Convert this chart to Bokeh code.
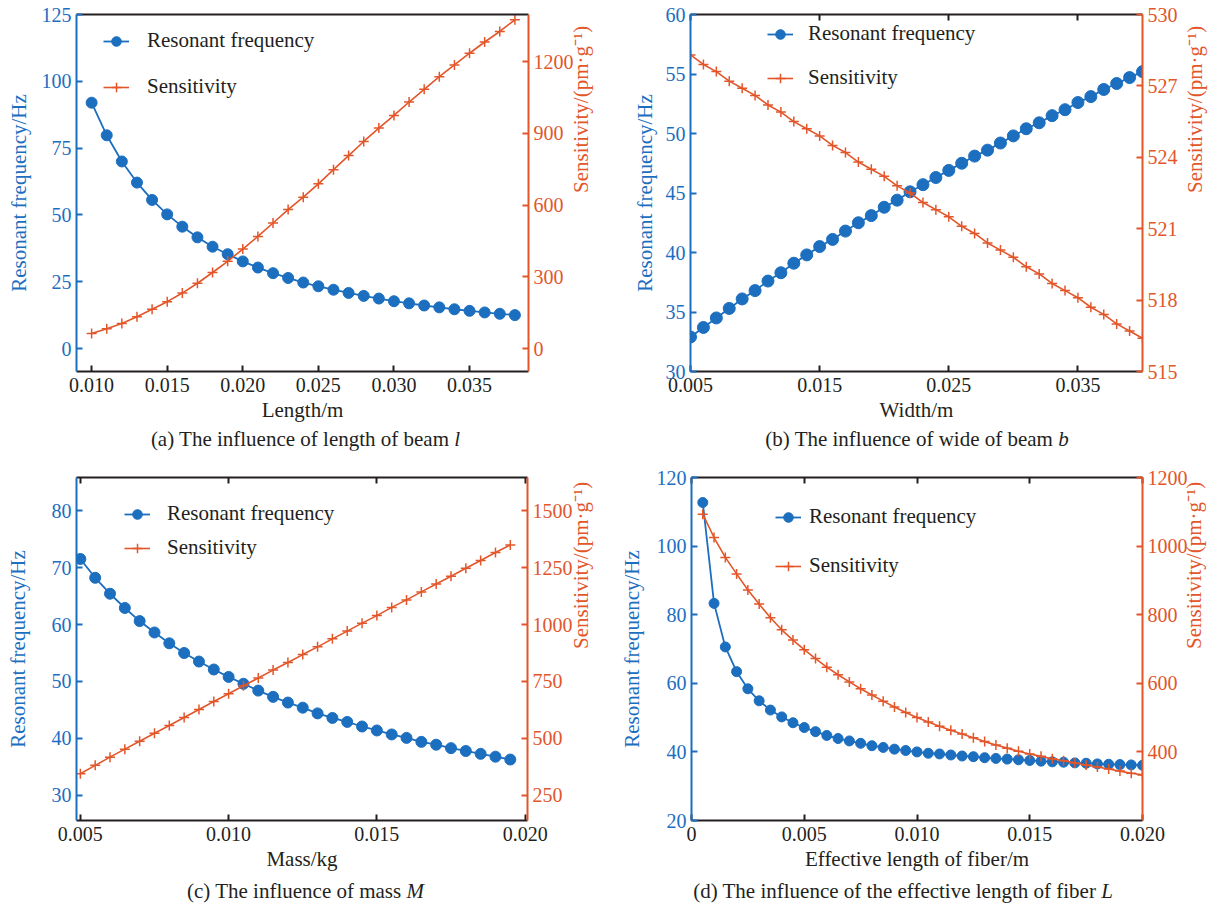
import math
from bokeh.plotting import figure
from bokeh.models import (Range1d, LinearAxis, FixedTicker, NumeralTickFormatter,
                          Legend, LegendItem, Div)
from bokeh.layouts import column, row
from bokeh.embed import file_html
from bokeh.resources import INLINE

# ---------------- data ----------------
# (a) length of beam
length_m = [0.010, 0.011, 0.012, 0.013, 0.014, 0.015, 0.016, 0.017, 0.018, 0.019,
            0.020, 0.021, 0.022, 0.023, 0.024, 0.025, 0.026, 0.027, 0.028, 0.029,
            0.030, 0.031, 0.032, 0.033, 0.034, 0.035, 0.036, 0.037, 0.038]
freq_a = [92.0, 79.8, 70.0, 62.1, 55.6, 50.2, 45.6, 41.6, 38.1, 35.3,
          32.6, 30.3, 28.2, 26.4, 24.7, 23.3, 22.0, 20.8, 19.7, 18.7,
          17.7, 16.9, 16.1, 15.4, 14.7, 14.1, 13.5, 13.0, 12.5]
sens_a = [63, 83, 105, 133, 164, 196, 232, 273, 318, 365,
          416, 469, 525, 581, 633, 689, 748, 807, 866, 922,
          975, 1031, 1084, 1137, 1186, 1235, 1282, 1326, 1375]

# (b) width of beam
width_m = [0.005, 0.006, 0.007, 0.008, 0.009, 0.010, 0.011, 0.012, 0.013, 0.014,
           0.015, 0.016, 0.017, 0.018, 0.019, 0.020, 0.021, 0.022, 0.023, 0.024,
           0.025, 0.026, 0.027, 0.028, 0.029, 0.030, 0.031, 0.032, 0.033, 0.034,
           0.035, 0.036, 0.037, 0.038, 0.039, 0.040]
freq_b = [32.9, 33.7, 34.5, 35.3, 36.1, 36.8, 37.6, 38.3, 39.1, 39.8,
          40.5, 41.1, 41.8, 42.5, 43.1, 43.8, 44.4, 45.1, 45.7, 46.3,
          46.9, 47.5, 48.1, 48.6, 49.2, 49.8, 50.4, 50.9, 51.5, 52.0,
          52.6, 53.1, 53.7, 54.2, 54.7, 55.2]
sens_b = [528.3, 527.9, 527.6, 527.2, 526.9, 526.6, 526.2, 525.9, 525.5, 525.2,
          524.9, 524.5, 524.2, 523.8, 523.5, 523.2, 522.8, 522.5, 522.1, 521.8,
          521.5, 521.1, 520.8, 520.4, 520.1, 519.8, 519.4, 519.1, 518.7, 518.4,
          518.1, 517.7, 517.4, 517.0, 516.7, 516.4]

# (c) mass
mass_kg = [0.0050, 0.0055, 0.0060, 0.0065, 0.0070, 0.0075, 0.0080, 0.0085, 0.0090, 0.0095,
           0.0100, 0.0105, 0.0110, 0.0115, 0.0120, 0.0125, 0.0130, 0.0135, 0.0140, 0.0145,
           0.0150, 0.0155, 0.0160, 0.0165, 0.0170, 0.0175, 0.0180, 0.0185, 0.0190, 0.0195]
freq_c = [71.5, 68.2, 65.4, 62.9, 60.6, 58.6, 56.7, 55.0, 53.5, 52.1,
          50.8, 49.6, 48.4, 47.3, 46.3, 45.4, 44.4, 43.6, 42.9, 42.1,
          41.4, 40.7, 40.1, 39.4, 38.9, 38.3, 37.8, 37.3, 36.8, 36.3]
sens_c = [345, 382, 418, 453, 488, 523, 557, 592, 627, 662,
          696, 731, 765, 800, 833, 868, 902, 937, 971, 1006,
          1039, 1075, 1108, 1143, 1178, 1212, 1247, 1281, 1316, 1349]

# (d) effective length of fiber
fiber_m = [0.0005, 0.0010, 0.0015, 0.0020, 0.0025, 0.0030, 0.0035, 0.0040, 0.0045, 0.0050,
           0.0055, 0.0060, 0.0065, 0.0070, 0.0075, 0.0080, 0.0085, 0.0090, 0.0095, 0.0100,
           0.0105, 0.0110, 0.0115, 0.0120, 0.0125, 0.0130, 0.0135, 0.0140, 0.0145, 0.0150,
           0.0155, 0.0160, 0.0165, 0.0170, 0.0175, 0.0180, 0.0185, 0.0190, 0.0195, 0.0200]
freq_d = [112.7, 83.3, 70.6, 63.4, 58.4, 54.9, 52.2, 50.2, 48.5, 47.1,
          45.9, 44.8, 43.9, 43.2, 42.5, 41.8, 41.3, 40.8, 40.4, 40.0,
          39.6, 39.4, 39.1, 38.8, 38.6, 38.3, 38.1, 37.9, 37.7, 37.5,
          37.3, 37.1, 37.0, 36.8, 36.7, 36.5, 36.4, 36.3, 36.2, 36.1]
sens_d = [1093, 1025, 967, 919, 872, 831, 791, 756, 726, 698,
          672, 647, 625, 604, 584, 566, 548, 531, 515, 500,
          487, 475, 463, 452, 441, 430, 420, 411, 402, 394,
          387, 380, 374, 368, 362, 356, 350, 344, 338, 333]

# tick labels
ticks_x_a = [0.010, 0.015, 0.020, 0.025, 0.030, 0.035]
ticks_f_a = [0, 25, 50, 75, 100, 125]
ticks_s_a = [0, 300, 600, 900, 1200]
ticks_x_b = [0.005, 0.015, 0.025, 0.035]
ticks_f_b = [30, 35, 40, 45, 50, 55, 60]
ticks_s_b = [515, 518, 521, 524, 527, 530]
ticks_x_c = [0.005, 0.010, 0.015, 0.020]
ticks_f_c = [30, 40, 50, 60, 70, 80]
ticks_s_c = [250, 500, 750, 1000, 1250, 1500]
ticks_x_d = [0, 0.005, 0.010, 0.015, 0.020]
ticks_f_d = [20, 40, 60, 80, 100, 120]
ticks_s_d = [400, 600, 800, 1000, 1200]

BLUE = "#1C6EBF"
ORANGE = "#E2562A"
BLACK = "#231F20"
FONT = "Liberation Serif"


def style_axis(ax, color, ticks, tick_in=6):
    ax.ticker = FixedTicker(ticks=ticks)
    ax.axis_line_color = color
    ax.axis_line_width = 2
    ax.major_tick_line_color = color
    ax.major_tick_line_width = 2
    ax.major_tick_in = tick_in
    ax.major_tick_out = 0
    ax.minor_tick_line_color = None
    ax.major_label_text_color = color
    ax.major_label_text_font = FONT
    ax.major_label_text_font_size = "20px"
    ax.major_label_standoff = 5
    ax.axis_label_text_font = FONT
    ax.axis_label_text_font_size = "21px"
    ax.axis_label_text_font_style = "normal"
    ax.axis_label_text_color = color
    ax.axis_label_standoff = 4


def panel(x, f, s, xr, yr, sr, xt, ft, st, xlabel, width, height, borders,
          leg_loc, leg_spacing, leg_standoff, lstand, rstand, top_ticks=True,
          x_over=None, dot=11):
    bl, br, bt, bb = borders
    p = figure(width=width, height=height, x_range=Range1d(*xr), y_range=Range1d(*yr),
               output_backend="svg", toolbar_location=None,
               min_border_left=bl, min_border_right=br, min_border_top=bt,
               min_border_bottom=bb)
    p.extra_y_ranges = {"s": Range1d(*sr)}
    p.xgrid.visible = False
    p.ygrid.visible = False
    p.outline_line_color = None
    p.background_fill_color = "white"

    xa = p.xaxis[0]
    style_axis(xa, BLACK, xt)
    xa.axis_label = xlabel
    xa.formatter = NumeralTickFormatter(format="0.000")
    xa.major_label_standoff = 6
    xa.axis_label_standoff = 3
    if x_over:
        xa.major_label_overrides = x_over

    ya = p.yaxis[0]
    style_axis(ya, BLUE, ft)
    ya.axis_label = "Resonant frequency/Hz"
    ya.axis_label_standoff = lstand

    ra = LinearAxis(y_range_name="s", axis_label="Sensitivity/(pm\u00b7g\u207b\u00b9)")
    style_axis(ra, ORANGE, st)
    ra.axis_label_standoff = rstand
    try:
        ra.axis_label_orientation = math.pi / 2
    except Exception:
        pass
    p.add_layout(ra, "right")

    ta = LinearAxis()
    style_axis(ta, BLACK, xt)
    ta.major_label_text_font_size = "1px"
    ta.major_label_text_color = None
    ta.major_label_standoff = 0
    if not top_ticks:
        ta.major_tick_line_color = None
    p.add_layout(ta, "above")

    rfl = p.line(x, f, line_color=BLUE, line_width=1.8)
    rfs = p.scatter(x, f, size=dot, fill_color=BLUE, line_color=BLUE)
    rsl = p.line(x, s, line_color=ORANGE, line_width=1.6, y_range_name="s")
    rss = p.scatter(x, s, marker="cross", size=10, line_color=ORANGE, line_width=1.5,
                    y_range_name="s")

    leg = Legend(items=[LegendItem(label="Resonant frequency", renderers=[rfl, rfs]),
                        LegendItem(label="Sensitivity", renderers=[rsl, rss])],
                 location=leg_loc, padding=0, margin=0, spacing=leg_spacing,
                 label_standoff=leg_standoff, glyph_width=26, glyph_height=24,
                 label_height=24, label_text_font=FONT, label_text_font_size="21px",
                 label_text_color=BLACK, border_line_color=None,
                 background_fill_alpha=0)
    p.add_layout(leg)
    return p


def caption(html, width, pad_top, pad_left=0, pad_right=0):
    return Div(text=('<div style="font-family:\'Liberation Serif\';font-size:21px;'
                     'color:#231F20;text-align:center;line-height:24px;white-space:nowrap;'
                     f'padding-top:{pad_top}px;padding-left:{pad_left}px;'
                     f'padding-right:{pad_right}px;width:{width - pad_left - pad_right}px">'
                     f'{html}</div>'),
               width=width, height=26, margin=(0, 0, 0, 0))


pa = panel(length_m, freq_a, sens_a, (0.0090, 0.0389), (-8.6, 125), (-96, 1397),
           ticks_x_a, ticks_f_a, ticks_s_a, "Length/m", 611, 424, (76, 83, 14, 53),
           (27, 272), 21, 18, 8, 4, top_ticks=False)
pb = panel(width_m, freq_b, sens_b, (0.005, 0.040), (30, 60), (515, 530),
           ticks_x_b, ticks_f_b, ticks_s_b, "Width/m", 612, 424, (79, 81, 14, 53),
           (77, 281), 19, 15, 6, 14, dot=12)
pc = panel(mass_kg, freq_c, sens_c, (0.00487, 0.02008), (25.6, 85.8), (140, 1645),
           ticks_x_c, ticks_f_c, ticks_s_c, "Mass/kg", 611, 423, (76, 84, 27, 53),
           (48, 260), 9, 17, 19, 5)
pd_ = panel(fiber_m, freq_d, sens_d, (0.0, 0.020), (20, 120), (200, 1200),
            ticks_x_d, ticks_f_d, ticks_s_d, "Effective length of fiber/m", 612, 423,
            (80, 81, 27, 53), (84, 242), 24, 8, 10, 3, x_over={0: "0"}, dot=10)

ca = caption("(a) The influence of length of beam <i>l</i>", 611, 3)
cb = caption("(b) The influence of wide of beam <i>b</i>", 612, 3, pad_left=60)
cc = caption("(c) The influence of mass <i>M</i>", 611, 6)
cd = caption("(d) The influence of the effective length of fiber <i>L</i>", 612, 6, pad_right=14)

layout = column(row(column(pa, ca), column(pb, cb)),
                row(column(pc, cc), column(pd_, cd)))

open("out.html", "w").write(file_html(layout, INLINE))
